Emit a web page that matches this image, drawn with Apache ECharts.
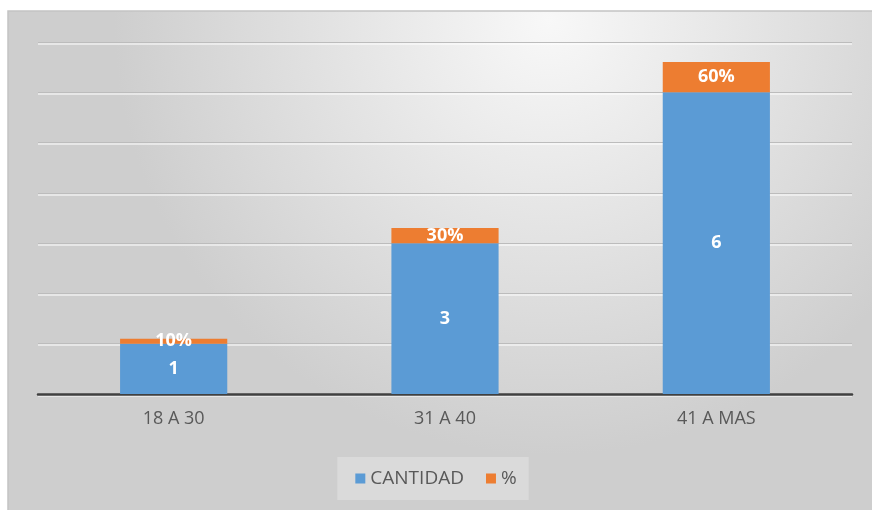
<!DOCTYPE html>
<html>
<head>
<meta charset="utf-8">
<script src="https://cdn.jsdelivr.net/npm/echarts@6/dist/echarts.min.js"></script>
<style>
  html, body { margin: 0; padding: 0; background: #fff; }
  #chart { width: 872px; height: 510px; }
</style>
</head>
<body>
<div id="chart"></div>
<script>
// datos
const categorias = ['18 A 30', '31 A 40', '41 A MAS'];
const cantidad = [1, 3, 6];
const porcentaje = [0.1, 0.3, 0.6];

const chart = echarts.init(document.getElementById('chart'));

const textoGris = '#595959';
const fuente = '"Open Sans", "Noto Sans", sans-serif';

const etiqueta = {
  show: true,
  position: 'inside',
  color: '#ffffff',
  fontWeight: 'bold',
  fontSize: 18,
  fontFamily: fuente
};

chart.setOption({
  backgroundColor: '#ffffff',
  animation: false,
  graphic: [
    {
      type: 'rect',
      z: -10,
      shape: { x: 8, y: 11, width: 872, height: 510 },
      style: {
        fill: new echarts.graphic.RadialGradient(0.62, 0.02, 0.85, [
          { offset: 0, color: '#f8f8f8' },
          { offset: 1, color: '#cecece' }
        ]),
        stroke: '#c4c4c4',
        lineWidth: 1.5
      }
    }
  ],
  grid: { left: 38, right: 20, top: 42, bottom: 116 },
  legend: {
    bottom: 10,
    left: 'center',
    itemWidth: 10,
    itemHeight: 10,
    itemGap: 22,
    padding: [12, 12, 12, 18],
    backgroundColor: 'rgba(255,255,255,0.25)',
    icon: 'rect',
    textStyle: { color: textoGris, fontSize: 19, fontFamily: fuente },
    data: ['CANTIDAD', '%']
  },
  xAxis: {
    type: 'category',
    data: categorias,
    axisTick: { show: false },
    axisLine: { lineStyle: { color: '#404040', width: 2.5 } },
    axisLabel: { color: textoGris, fontSize: 18, fontFamily: fuente, margin: 16 }
  },
  yAxis: {
    type: 'value',
    min: 0,
    max: 7,
    interval: 1,
    axisLabel: { show: false },
    axisLine: { show: false },
    axisTick: { show: false },
    splitLine: {
      lineStyle: { color: '#bcbcbc', width: 1.2, shadowColor: '#ffffff', shadowOffsetY: 1.5 }
    }
  },
  series: [
    {
      name: 'CANTIDAD',
      type: 'bar',
      stack: 'total',
      barWidth: '39.5%',
      itemStyle: { color: '#5B9BD5' },
      label: etiqueta,
      data: cantidad
    },
    {
      name: '%',
      type: 'bar',
      stack: 'total',
      itemStyle: { color: '#ED7D31' },
      label: Object.assign({}, etiqueta, {
        formatter: p => Math.round(p.value * 100) + '%'
      }),
      labelLayout: { hideOverlap: false },
      data: porcentaje
    }
  ]
});
</script>
</body>
</html>
